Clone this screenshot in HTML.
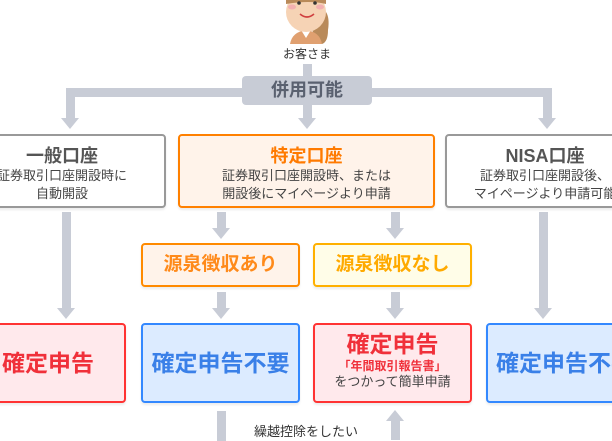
<!DOCTYPE html>
<html><head><meta charset="utf-8"><style>
body{margin:0;width:612px;height:432px;overflow:hidden;background:#fff;position:relative;font-family:"Liberation Sans","Noto Sans CJK JP",sans-serif}
.a{position:absolute;background:#c8ccd6}
.t{position:absolute;width:0;height:0;border-left:9px solid transparent;border-right:9px solid transparent;border-top:11px solid #c8ccd6}
.b{position:absolute;box-sizing:border-box;border:2px solid;border-radius:4px;text-align:center;box-shadow:0 2px 2px rgba(0,0,0,0.08)}
.ttl{font-weight:bold;font-size:18px;line-height:22px}
.sub{font-size:13px;color:#444;line-height:18px}
.big{font-weight:bold;font-size:23px}
</style></head><body>
<svg style="position:absolute;left:270px;top:0" width="70" height="45">
<path d="M40 5 Q62 5 58 30 Q58 42 52 44 L44 44 Z" fill="#b98a5a"/>
<path d="M20 44 Q22 32 36 30 Q50 32 52 44 Z" fill="#e0a070"/>
<path d="M31 30 L36 38 L41 30 Z" fill="#fff"/>
<ellipse cx="36" cy="12" rx="20" ry="20" fill="#f6d3b5"/>
<path d="M16 0 Q36 -3 56 0 L56 4 Q40 0 16 4 Z" fill="#b98a5a"/>
<circle cx="29" cy="3" r="1.8" fill="#333"/><circle cx="45" cy="3" r="1.8" fill="#333"/>
<ellipse cx="22" cy="7" rx="4" ry="2.5" fill="#f3b0b0"/><ellipse cx="50" cy="7" rx="4" ry="2.5" fill="#f3b0b0"/>
<path d="M30 14 Q37 20 44 14" stroke="#d04040" stroke-width="1.6" fill="none"/>
</svg>
<div style="position:absolute;left:257px;top:45px;width:100px;text-align:center;font-size:12px;color:#333">お客さま</div>

<div class="a" style="left:303px;top:64px;width:9px;height:14px"></div>
<div class="a" style="left:66px;top:88px;width:485px;height:9px"></div>
<div class="a" style="left:66px;top:88px;width:9px;height:32px"></div>
<div class="a" style="left:303px;top:100px;width:9px;height:20px"></div>
<div class="a" style="left:543px;top:88px;width:9px;height:32px"></div>
<div class="t" style="left:61px;top:118px"></div>
<div class="t" style="left:298px;top:118px"></div>
<div class="t" style="left:538px;top:118px"></div>
<div style="position:absolute;left:242px;top:76px;width:130px;height:29px;background:#c8ccd6;border-radius:4px;text-align:center;line-height:29px;font-weight:bold;font-size:18px;color:#5a6170">併用可能</div>

<div class="b" style="left:-42px;top:134px;width:208px;height:74px;border-color:#999;background:#fff"><div class="ttl" style="color:#555;margin-top:9px">一般口座</div><div class="sub">証券取引口座開設時に<br>自動開設</div></div>
<div class="b" style="left:178px;top:134px;width:257px;height:74px;border-color:#ff8000;background:#fff3ea"><div class="ttl" style="color:#ff7a00;margin-top:9px">特定口座</div><div class="sub">証券取引口座開設時、または<br>開設後にマイページより申請</div></div>
<div class="b" style="left:445px;top:134px;width:200px;height:74px;border-color:#999;background:#fff"><div class="ttl" style="color:#555;margin-top:9px">NISA口座</div><div class="sub">証券取引口座開設後、<br>マイページより申請可能</div></div>

<div class="a" style="left:62px;top:212px;width:9px;height:98px"></div>
<div class="t" style="left:57px;top:308px"></div>
<div class="a" style="left:539px;top:212px;width:9px;height:98px"></div>
<div class="t" style="left:534px;top:308px"></div>
<div class="a" style="left:217px;top:212px;width:9px;height:18px"></div>
<div class="t" style="left:212px;top:228px"></div>
<div class="a" style="left:391px;top:212px;width:9px;height:18px"></div>
<div class="t" style="left:386px;top:228px"></div>

<div class="b" style="left:141px;top:243px;width:159px;height:44px;border-color:#ff8a00;background:#fff3ea;line-height:40px"><span style="font-weight:bold;font-size:19px;color:#ff8a1a">源泉徴収あり</span></div>
<div class="b" style="left:313px;top:243px;width:159px;height:44px;border-color:#ffb000;background:#fffde8;line-height:40px"><span style="font-weight:bold;font-size:19px;color:#ffaa00">源泉徴収なし</span></div>

<div class="a" style="left:217px;top:292px;width:9px;height:18px"></div>
<div class="t" style="left:212px;top:308px"></div>
<div class="a" style="left:391px;top:292px;width:9px;height:18px"></div>
<div class="t" style="left:386px;top:308px"></div>

<div class="b" style="left:-30px;top:323px;width:156px;height:80px;border-color:#f33;background:#ffe9ec;line-height:76px"><span class="big" style="color:#f0303a">確定申告</span></div>
<div class="b" style="left:141px;top:323px;width:159px;height:80px;border-color:#3388ff;background:#dcebff;line-height:76px"><span class="big" style="color:#3a80e8">確定申告不要</span></div>
<div class="b" style="left:313px;top:323px;width:159px;height:80px;border-color:#f33;background:#ffe9ec"><div class="big" style="color:#f0303a;margin-top:6px;line-height:27px">確定申告</div><div style="font-size:12px;color:#f0303a;font-weight:bold;line-height:16px">「年間取引報告書」</div><div class="sub" style="line-height:16px">をつかって簡単申請</div></div>
<div class="b" style="left:486px;top:323px;width:166px;height:80px;border-color:#3388ff;background:#dcebff;line-height:76px;text-align:left;padding-left:8px"><span class="big" style="color:#3a80e8">確定申告不要</span></div>

<div class="a" style="left:217px;top:411px;width:9px;height:30px"></div>
<div style="position:absolute;left:386px;top:410px;width:0;height:0;border-left:9px solid transparent;border-right:9px solid transparent;border-bottom:11px solid #c8ccd6"></div>
<div class="a" style="left:391px;top:420px;width:9px;height:20px"></div>
<div style="position:absolute;left:254px;top:421px;font-size:13px;color:#333">繰越控除をしたい</div>
</body></html>
